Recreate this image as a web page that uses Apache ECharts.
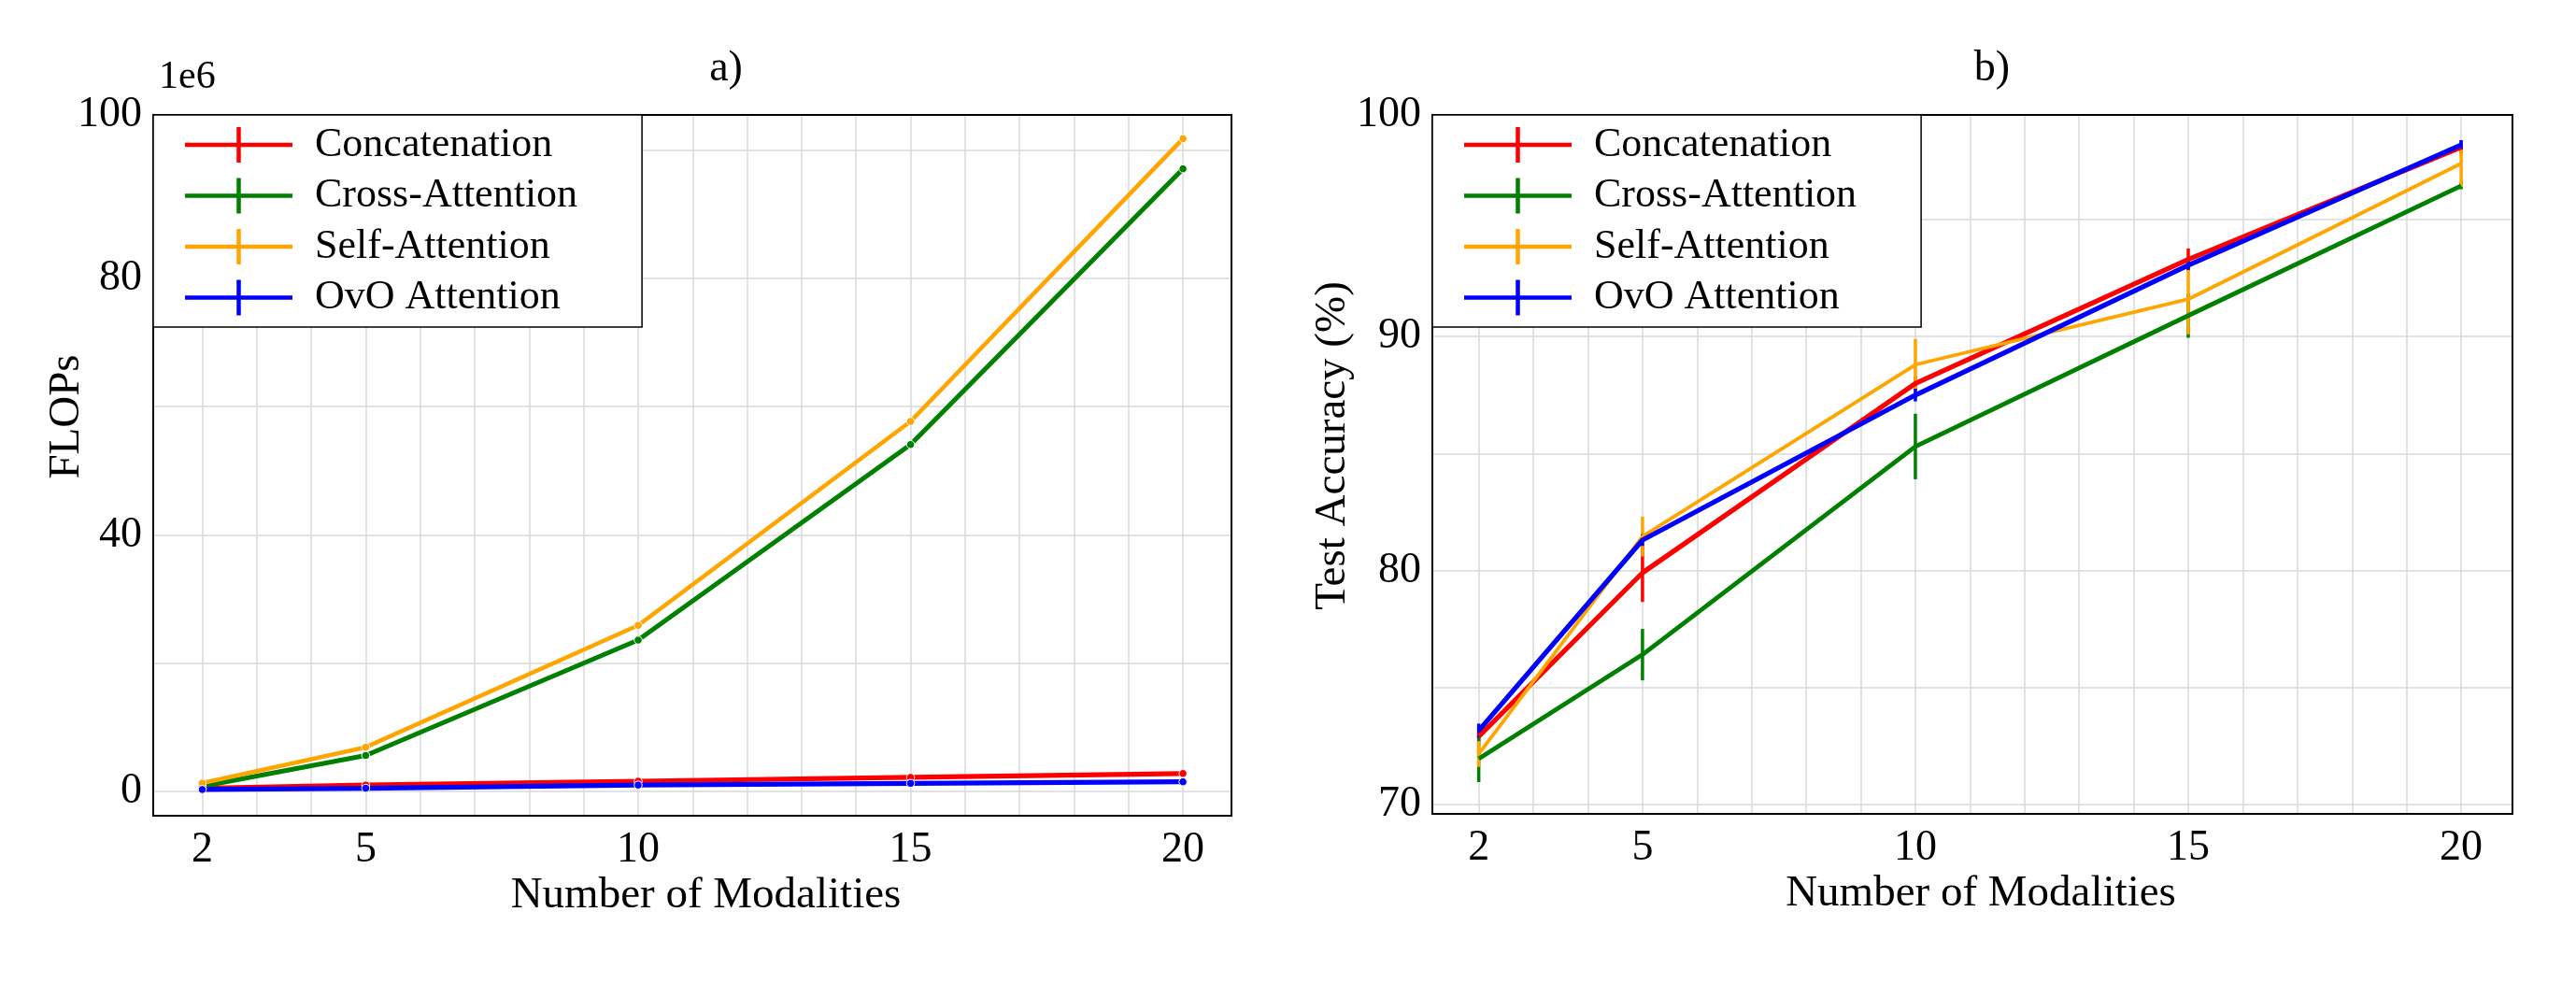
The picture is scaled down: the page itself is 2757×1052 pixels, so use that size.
<!DOCTYPE html>
<html>
<head>
<meta charset="utf-8">
<script src="https://cdn.jsdelivr.net/npm/echarts@6/dist/echarts.min.js"></script>
<style>
html,body{margin:0;padding:0;background:#fff;}
#chart{width:2757px;height:1052px;}
</style>
</head>
<body>
<div id="chart"></div>
<script>
// ---------- data ----------
const modalities = [2, 5, 10, 15, 20];
const seriesNames = ['Concatenation', 'Cross-Attention', 'Self-Attention', 'OvO Attention'];

// Panel a) FLOPs (in units of 1e6)
const flopsConcat = [0.5, 1.0, 1.6, 2.2, 2.8];
const flopsCross  = [0.8, 5.6, 23.6, 54.1, 97.1];
const flopsSelf   = [1.3, 6.9, 25.9, 57.7, 101.8];
const flopsOvO    = [0.3, 0.5, 1.0, 1.26, 1.5];

// Panel b) Test accuracy (%) and error half-widths
const accConcat = [72.9, 79.9, 88.0, 93.3, 98.1];
const accCross  = [71.95, 76.4, 85.3, 90.9, 96.45];
const accSelf   = [72.15, 81.45, 88.8, 91.6, 97.4];
const accOvO    = [73.15, 81.3, 87.5, 93.05, 98.2];
const errConcat = [0.25, 1.25, 0.3, 0.47, 0.3];
const errCross  = [1.0, 1.1, 1.4, 0.95, 0.15];
const errSelf   = [0.55, 0.85, 1.1, 1.5, 1.0];
const errOvO    = [0.3, 0.25, 0.27, 0.2, 0.2];

// Tick labels
const xTickLabels = [2, 5, 10, 15, 20];
const flopsTickLabels = [0, 40, 80];
const flopsTopLabel = '100';
const accTickLabels = [70, 80, 90];
const accTopLabel = '100';
const flopsOffsetText = '1e6';

// ---------- styling / layout ----------
const colors = ['#ff0000', '#008000', '#ffa500', '#0000ff'];
const FONT = "'Liberation Serif', 'Times New Roman', serif";
const W = 2757, H = 1052;
const GA = {left: 164, top: 123, width: 1154, height: 750};
const GB = {left: 1533, top: 123, width: 1156, height: 748};
const axA = {xmin: 1.1, xmax: 20.89, ymin: -3.79, ymax: 105.5};
const axB = {xmin: 1.15, xmax: 20.94, ymin: 69.59, ymax: 99.48};
const lineWidthsA = [5.2, 5.0, 4.6, 5.2];
const lineWidthsB = [5.2, 4.8, 3.8, 5.2];

const flopsData = [flopsConcat, flopsCross, flopsSelf, flopsOvO];
const accData = [accConcat, accCross, accSelf, accOvO];
const errData = [errConcat, errCross, errSelf, errOvO];

// legend marker: horizontal line with a vertical error tick (115 x 38 box)
const legendIcon = 'path://M0,16.75L115,16.75L115,21.25L0,21.25Z M55.25,0L59.75,0L59.75,38L55.25,38Z';

function gridOf(g) {
  return {left: g.left, top: g.top, right: W - g.left - g.width, bottom: H - g.top - g.height, containLabel: false};
}

function xAxisOf(gi, ax, nameShift) {
  return {
    type: 'value', gridIndex: gi, min: ax.xmin, max: ax.xmax, splitNumber: 20,
    name: 'Number of Modalities', nameLocation: 'middle', nameGap: 62, nameMoveOverlap: false,
    nameTextStyle: {fontFamily: FONT, fontSize: 47, color: '#000', padding: [0, 0, 0, nameShift]},
    axisLine: {show: false}, axisTick: {show: false},
    axisLabel: {
      interval: 0, showMinLabel: false, showMaxLabel: false, margin: 14,
      fontFamily: FONT, fontSize: 46, color: '#000',
      formatter: v => xTickLabels.includes(v) ? String(v) : ''
    },
    splitLine: {show: true, lineStyle: {color: '#d8d8d8', width: 1.5}}
  };
}

function yAxisOf(gi, ax, name, labels, topLabel, nameGap, nameShift) {
  return {
    type: 'value', gridIndex: gi, min: ax.ymin, max: ax.ymax, splitNumber: 5,
    name: name, nameLocation: 'middle', nameGap: nameGap, nameMoveOverlap: false,
    nameTextStyle: {fontFamily: FONT, fontSize: 47, color: '#000', padding: [0, 0, 0, nameShift]},
    axisLine: {show: false}, axisTick: {show: false},
    axisLabel: {
      interval: 0, showMinLabel: false, showMaxLabel: true, margin: 12,
      fontFamily: FONT, fontSize: 46, color: '#000',
      formatter: v => (v === ax.ymax ? topLabel : (labels.includes(v) ? String(v) : ''))
    },
    splitLine: {show: true, lineStyle: {color: '#d8d8d8', width: 1.5}}
  };
}

function legendOf(left) {
  return {
    left: left, top: 123, orient: 'vertical',
    data: seriesNames.map((n, i) => ({
      name: n, icon: legendIcon,
      itemStyle: {color: colors[i], opacity: 1, borderWidth: 0}
    })),
    itemWidth: 115, itemHeight: 38, itemGap: 10.5,
    padding: [10, 69, 9.5, 34],
    backgroundColor: '#fff', borderColor: '#000', borderWidth: 1.5,
    selectedMode: false, z: 20,
    textStyle: {fontFamily: FONT, fontSize: 44, color: '#000', padding: [0, 0, 0, 19]}
  };
}

function errRender(params, api) {
  const x = api.value(0), y = api.value(1), e = api.value(2);
  const p1 = api.coord([x, y - e]);
  const p2 = api.coord([x, y + e]);
  return {
    type: 'line',
    shape: {x1: p1[0], y1: p1[1], x2: p2[0], y2: p2[1]},
    style: {stroke: api.visual('color'), lineWidth: 3.5}
  };
}

const series = [];
seriesNames.forEach((n, i) => {
  series.push({
    name: n, type: 'line', xAxisIndex: 0, yAxisIndex: 0,
    data: modalities.map((m, k) => [m, flopsData[i][k]]),
    symbol: 'circle', symbolSize: 8.5, showSymbol: true,
    lineStyle: {color: colors[i], width: lineWidthsA[i]},
    itemStyle: {color: colors[i], borderColor: '#fff', borderWidth: 1},
    emphasis: {disabled: true}, z: 3
  });
});
seriesNames.forEach((n, i) => {
  series.push({
    name: n, type: 'line', xAxisIndex: 1, yAxisIndex: 1,
    data: modalities.map((m, k) => [m, accData[i][k]]),
    showSymbol: false, symbol: 'none',
    lineStyle: {color: colors[i], width: lineWidthsB[i]},
    itemStyle: {color: colors[i]},
    emphasis: {disabled: true}, z: 3
  });
  series.push({
    name: n, type: 'custom', xAxisIndex: 1, yAxisIndex: 1,
    data: modalities.map((m, k) => [m, accData[i][k], errData[i][k]]),
    encode: {x: 0, y: 1},
    renderItem: errRender,
    itemStyle: {color: colors[i]},
    z: 3
  });
});

const option = {
  animation: false,
  backgroundColor: '#fff',
  title: [
    {text: 'a)', left: 777, top: 51, textAlign: 'center', padding: 0,
     textStyle: {fontFamily: FONT, fontSize: 46, fontWeight: 'normal', color: '#000'}},
    {text: 'b)', left: 2132, top: 51, textAlign: 'center', padding: 0,
     textStyle: {fontFamily: FONT, fontSize: 46, fontWeight: 'normal', color: '#000'}}
  ],
  grid: [gridOf(GA), gridOf(GB)],
  xAxis: [xAxisOf(0, axA, 29), xAxisOf(1, axB, 18)],
  yAxis: [
    yAxisOf(0, axA, 'FLOPs', flopsTickLabels, flopsTopLabel, 69, 104),
    yAxisOf(1, axB, 'Test Accuracy (%)', accTickLabels, accTopLabel, 83, 40)
  ],
  legend: [legendOf(GA.left), legendOf(GB.left)],
  graphic: [
    {type: 'text', left: 170, top: 62, z: 20,
     style: {text: flopsOffsetText, font: '42px ' + FONT, fill: '#000'}},
    {type: 'rect', shape: {x: GA.left, y: GA.top, width: GA.width, height: GA.height}, z: 15, silent: true,
     style: {fill: 'none', stroke: '#000', lineWidth: 2}},
    {type: 'rect', shape: {x: GB.left, y: GB.top, width: GB.width, height: GB.height}, z: 15, silent: true,
     style: {fill: 'none', stroke: '#000', lineWidth: 2}}
  ],
  series: series
};

const chart = echarts.init(document.getElementById('chart'), null, {renderer: 'canvas'});
chart.setOption(option);
</script>
</body>
</html>
